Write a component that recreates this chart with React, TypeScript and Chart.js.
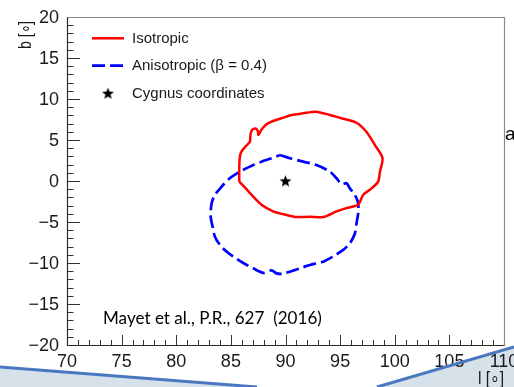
import { useEffect, useRef } from "react";
import { Chart, registerables } from "chart.js";
Chart.register(...registerables);

// Isotropic contour (l, b in degrees)
const isoL = [85.77, 85.77, 85.83, 85.98, 86.38, 86.74, 86.79, 86.93, 87.25, 87.47, 87.52, 87.84, 88.3, 88.76, 89.64, 90.56, 91.6, 92.78, 94.06, 95.28, 96.5, 97.4, 98.18, 98.88, 98.64, 98.48, 97.88, 97.1, 96.65, 95.6, 94.67, 93.45, 92.23, 91.0, 90.1, 88.87, 87.8, 86.9, 86.3];
const isoB = [-0.08, 1.75, 3.0, 3.6, 4.27, 4.79, 5.61, 6.22, 6.4, 6.1, 5.61, 6.34, 6.95, 7.26, 7.65, 8.05, 8.25, 8.45, 8.05, 7.6, 7.1, 6.0, 4.4, 2.8, 1.1, -0.08, -0.9, -1.7, -2.9, -3.3, -3.7, -4.4, -4.35, -4.4, -4.15, -3.7, -2.9, -1.7, -0.8];

// Anisotropic (beta = 0.4) contour
const aniL = [89.49, 90.4, 91.62, 92.84, 94.06, 94.67, 95.13, 95.59, 95.89, 96.35, 96.65, 96.65, 96.5, 96.35, 95.89, 95.28, 94.36, 93.45, 92.23, 91.32, 90.4, 89.79, 89.18, 88.73, 87.96, 87.05, 86.13, 85.2, 84.6, 84.0, 83.54, 83.33, 83.15, 83.24, 83.54, 84.15, 84.9, 85.83, 86.74, 87.8, 88.73];
const aniB = [3.17, 2.77, 2.36, 1.95, 1.14, 0.33, -0.37, -0.28, -0.9, -1.7, -2.7, -3.94, -5.16, -6.4, -7.6, -8.4, -9.2, -9.84, -10.24, -10.65, -11.06, -11.3, -11.26, -10.9, -11.2, -10.65, -10.0, -9.2, -8.6, -7.8, -6.8, -5.57, -4.35, -2.7, -1.7, -0.7, 0.33, 1.14, 1.75, 2.36, 2.77];

// Cygnus coordinates
const cygL = [90];
const cygB = [0];

const xRange = [70, 110];
const yRange = [-20, 20];
const legendLabels = ["Isotropic", "Anisotropic (\u03b2 = 0.4)", "Cygnus coordinates"];
const citation = "Mayet et al., P.R., 627  (2016)";
const xTitle = "l [\u2218]";
const yTitle = "b [\u2218]";

const FONT = "'Liberation Sans', Arial, Helvetica, sans-serif";

function makeStar(R: number) {
  const s = Math.ceil(2 * R + 2);
  const c = document.createElement("canvas");
  c.width = s;
  c.height = s;
  const g = c.getContext("2d")!;
  g.fillStyle = "#000";
  g.beginPath();
  for (let i = 0; i < 10; i++) {
    const a = -Math.PI / 2 + (i * Math.PI) / 5;
    const r = i % 2 ? R * 0.42 : R;
    const px = s / 2 + r * Math.cos(a);
    const py = s / 2 + 0.5 + r * Math.sin(a);
    if (i === 0) g.moveTo(px, py);
    else g.lineTo(px, py);
  }
  g.closePath();
  g.fill();
  return c;
}

function closed(ls: number[], bs: number[]) {
  const pts = ls.map((l, i) => ({ x: l, y: bs[i] }));
  pts.push({ ...pts[0] });
  return pts;
}

const fmt = (v: number) => (v < 0 ? "\u2212" + Math.abs(v) : String(v));

function fitText(ctx: CanvasRenderingContext2D, text: string, x: number, y: number, w: number) {
  const m = ctx.measureText(text).width;
  const sx = w / m;
  ctx.save();
  ctx.translate(x, y);
  ctx.scale(sx, 1);
  ctx.fillText(text, 0, 0);
  ctx.restore();
}

export default function App() {
  const ref = useRef<HTMLCanvasElement>(null);
  useEffect(() => {
    const canvas = ref.current!;
    const star = makeStar(6.3);

    const decor = {
      id: "decor",
      beforeDraw(chart: any) {
        const ctx = chart.ctx;
        ctx.save();
        ctx.fillStyle = "#ffffff";
        ctx.fillRect(0, 0, chart.width, chart.height);
        ctx.fillStyle = "#d6e1ea";
        ctx.beginPath();
        ctx.moveTo(0, 367);
        ctx.lineTo(257, 387);
        ctx.lineTo(0, 387);
        ctx.closePath();
        ctx.fill();
        ctx.beginPath();
        ctx.moveTo(377, 387);
        ctx.lineTo(514, 347);
        ctx.lineTo(514, 387);
        ctx.closePath();
        ctx.fill();
        ctx.restore();
      },
      afterDraw(chart: any) {
        const { ctx, chartArea, scales } = chart;
        const { left, right, top, bottom } = chartArea;
        const x = scales.x;
        const y = scales.y;
        ctx.save();
        ctx.setLineDash([]);
        ctx.lineWidth = 1;
        ctx.strokeStyle = "#333";
        for (let v = xRange[0]; v <= xRange[1]; v++) {
          const px = Math.round(x.getPixelForValue(v)) + 0.5;
          const len = v % 5 === 0 ? 10 : 5;
          ctx.beginPath();
          ctx.moveTo(px, bottom);
          ctx.lineTo(px, bottom - len);
          ctx.stroke();
        }
        for (let v = yRange[0]; v <= yRange[1]; v++) {
          const py = Math.round(y.getPixelForValue(v)) + 0.5;
          const len = v % 5 === 0 ? 13 : 6.5;
          ctx.beginPath();
          ctx.moveTo(left, py);
          ctx.lineTo(left + len, py);
          ctx.stroke();
        }
        // frame
        const L = Math.round(left) + 0.5;
        const R = Math.round(right) + 0.5;
        const T = Math.round(top) + 0.5;
        const B = Math.round(bottom) + 0.5;
        ctx.strokeStyle = "#8a8a8a";
        ctx.lineWidth = 1.2;
        ctx.beginPath();
        ctx.moveTo(L, T);
        ctx.lineTo(R, T);
        ctx.lineTo(R, B);
        ctx.stroke();
        ctx.strokeStyle = "#2a2a2a";
        ctx.beginPath();
        ctx.moveTo(L, T);
        ctx.lineTo(L, B);
        ctx.lineTo(R, B);
        ctx.stroke();

        // legend
        const lx0 = left + 25;
        const lx1 = left + 57;
        const tx = left + 65;
        const rows = [top + 21.3, top + 48.7, top + 76.3];
        ctx.lineWidth = 2.5;
        ctx.strokeStyle = "#ff0000";
        ctx.beginPath();
        ctx.moveTo(lx0, rows[0]);
        ctx.lineTo(lx1, rows[0]);
        ctx.stroke();
        ctx.strokeStyle = "#0000ff";
        ctx.lineWidth = 2.7;
        ctx.setLineDash([13, 5]);
        ctx.beginPath();
        ctx.moveTo(lx0, rows[1]);
        ctx.lineTo(lx1, rows[1]);
        ctx.stroke();
        ctx.setLineDash([]);
        ctx.drawImage(star, (lx0 + lx1) / 2 - star.width / 2, rows[2] - star.height / 2);
        ctx.fillStyle = "#1a1a1a";
        ctx.font = "15px " + FONT;
        ctx.textBaseline = "middle";
        ctx.textAlign = "left";
        legendLabels.forEach((t, i) => ctx.fillText(t, tx, rows[i] + 0.5));

        // citation
        let fs = 100;
        ctx.font = `${fs}px Lato, 'Open Sans', sans-serif`;
        fs = (fs * 219) / ctx.measureText(citation).width;
        ctx.font = `${fs}px Lato, 'Open Sans', sans-serif`;
        ctx.fillStyle = "#000";
        ctx.textBaseline = "alphabetic";
        ctx.fillText(citation, 103, 323.5);

        // axis titles
        ctx.font = "18px " + FONT;
        ctx.fillStyle = "#1a1a1a";
        ctx.textAlign = "left";
        fitText(ctx, xTitle, 478, 384, 26);
        ctx.save();
        ctx.translate(31, 49);
        ctx.rotate(-Math.PI / 2);
        fitText(ctx, yTitle, 0, 0, 28);
        ctx.restore();

        // page artefacts
        ctx.fillStyle = "#000";
        ctx.font = "19px " + FONT;
        ctx.fillText("a", 505, 140);
        ctx.strokeStyle = "#4a78c0";
        ctx.lineWidth = 3;
        ctx.beginPath();
        ctx.moveTo(0, 367);
        ctx.lineTo(257, 387);
        ctx.stroke();
        ctx.beginPath();
        ctx.moveTo(377, 387);
        ctx.lineTo(514, 347);
        ctx.stroke();
        ctx.restore();
      },
    };

    const chart = new Chart(canvas, {
      type: "scatter",
      data: {
        datasets: [
          {
            label: legendLabels[0],
            data: closed(isoL, isoB),
            showLine: true,
            borderColor: "#ff0000",
            borderWidth: 2.5,
            pointRadius: 0,
            fill: false,
            tension: 0.25,
          },
          {
            label: legendLabels[1],
            data: closed(aniL, aniB),
            showLine: true,
            borderColor: "#0000ff",
            borderWidth: 2.7,
            borderDash: [13, 5],
            pointRadius: 0,
            fill: false,
            tension: 0.3,
          },
          {
            label: legendLabels[2],
            data: cygL.map((l, i) => ({ x: l, y: cygB[i] })),
            pointStyle: star as any,
            pointRadius: 6,
            showLine: false,
          },
        ],
      },
      options: {
        responsive: false,
        animation: false,
        devicePixelRatio: 1,
        layout: { padding: { top: 17, right: 10, left: 0, bottom: 0 } },
        plugins: { legend: { display: false }, tooltip: { enabled: false } },
        scales: {
          x: {
            type: "linear",
            min: xRange[0],
            max: xRange[1],
            grid: { display: false, drawTicks: false },
            border: { display: false },
            ticks: {
              stepSize: 5,
              autoSkip: false,
              maxRotation: 0,
              padding: 6,
              color: "#1a1a1a",
              font: { family: FONT, size: 18 },
              callback: (v: any) => fmt(Number(v)),
            },
            afterFit: (s: any) => {
              s.height = 42;
              s.paddingLeft = 0;
              s.paddingRight = 0;
            },
          },
          y: {
            type: "linear",
            min: yRange[0],
            max: yRange[1],
            grid: { display: false, drawTicks: false },
            border: { display: false },
            ticks: {
              stepSize: 5,
              autoSkip: false,
              padding: 8,
              labelOffset: 1.5,
              color: "#1a1a1a",
              font: { family: FONT, size: 18 },
              callback: (v: any) => fmt(Number(v)),
            },
            afterFit: (s: any) => {
              s.width = 67;
              s.paddingTop = 0;
              s.paddingBottom = 0;
            },
          },
        },
      },
      plugins: [decor],
    });
    return () => chart.destroy();
  }, []);

  return (
    <div style={{ position: "fixed", left: 0, top: 0, width: 514, height: 387 }}>
      <canvas ref={ref} width={514} height={387} style={{ display: "block" }} />
    </div>
  );
}
